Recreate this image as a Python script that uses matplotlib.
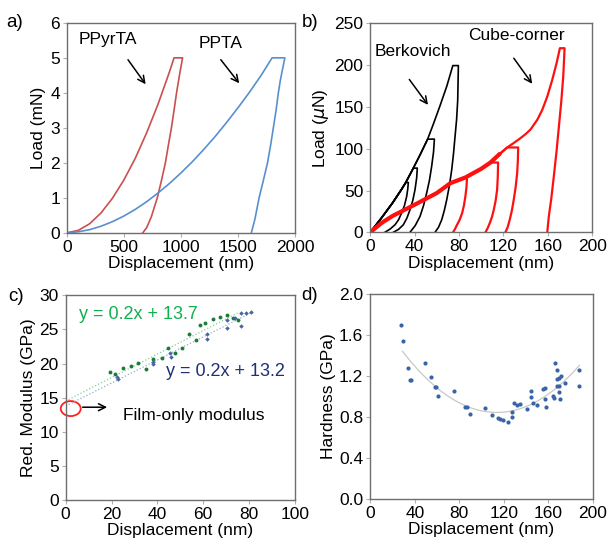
import numpy as np
import matplotlib
matplotlib.use('Agg')
import matplotlib.pyplot as plt
from matplotlib.patches import Ellipse

plt.rcParams['font.family'] = ['Liberation Sans', 'DejaVu Sans']
plt.rcParams['font.size'] = 12.5

# a) load-displacement, mN vs nm
ppyrta_x = [0, 100, 200, 300, 400, 500, 600, 700, 800, 900, 940, 1015,
            990, 962, 940, 917, 890, 864, 830, 793, 740, 700, 666]
ppyrta_y = [0, 0.07, 0.26, 0.57, 0.99, 1.51, 2.13, 2.86, 3.68, 4.6, 5.0, 5.0,
            4.55, 4.0, 3.5, 3.0, 2.5, 2.0, 1.5, 1.0, 0.45, 0.15, 0]
ppta_x = [0, 100, 200, 300, 400, 500, 600, 700, 800, 900, 1000, 1100, 1200, 1300,
          1400, 1500, 1600, 1700, 1800, 1912,
          1890, 1872, 1855, 1835, 1811, 1787, 1760, 1720, 1686, 1650, 1618]
ppta_y = [0, 0.03, 0.09, 0.19, 0.32, 0.48, 0.67, 0.89, 1.14, 1.41, 1.71, 2.03, 2.38, 2.75,
          3.15, 3.57, 4.01, 4.48, 5.0, 5.0,
          4.65, 4.35, 4.0, 3.5, 3.0, 2.5, 2.0, 1.45, 1.0, 0.4, 0]

# b) Berkovich (black) and cube-corner (red) indents, uN vs nm
berk_load_x = [0, 10, 20, 28, 32, 38.8, 45, 51.7, 57, 63, 69, 74.4]
berk_load_y = [0, 17, 35, 51, 59.6, 76.8, 93, 111.5, 130, 152, 175, 199.5]
berk_peaks = [59.6, 76.8, 111.5, 199.5]
berk_unload = [
    ([34.3, 33.8, 32.8, 30.8, 28.2, 25.5, 22.3, 18.0, 13.2], [59.6, 52, 42.8, 32, 23, 15, 9, 4, 0]),
    ([42.4, 41.8, 40.3, 38.3, 35.8, 33.0, 29.8, 25.5, 20.8], [76.8, 65, 50.8, 38, 26.9, 17, 9, 3.5, 0]),
    ([57.8, 57.0, 55.3, 53.3, 50.8, 48.0, 44.8, 40.5, 35.8], [111.5, 96, 78.7, 62, 46.9, 32, 18.9, 8, 0]),
    ([79.4, 78.8, 77.8, 76.4, 75.0, 73.4, 71.3, 68.9, 66.7, 64.4, 61.5, 58.4],
     [199.5, 158, 135, 114.6, 94, 74.8, 56, 38.9, 26, 15, 6, 0]),
]
cube_load_x = [0, 10, 20, 40, 60, 72.2, 85.7, 100, 108.3, 116, 123.4, 130, 135.4,
               140, 144.4, 150.5, 155, 159.5, 164, 167.9, 170.9]
cube_load_y = [0, 11, 19.5, 33, 47, 58.8, 65.6, 76, 83.5, 93, 101.5, 107.5, 112.7,
               117.5, 123, 134.6, 146.5, 162.4, 182.4, 202.4, 220.3]
cube_peaks = [65.6, 83.5, 101.5, 220.3]
cube_unload = [
    ([87.2, 86.7, 85.7, 84.4, 82.8, 80.6, 78.2, 76.4, 74.6], [65.6, 54, 42.8, 32, 23, 15, 9, 4, 0]),
    ([115.2, 114.9, 114.3, 113.0, 111.3, 109.6, 107.7, 105.8, 103.8], [83.5, 66, 50.8, 38, 26.9, 18, 11, 5, 0]),
    ([133.3, 133.0, 132.4, 131.0, 129.3, 127.6, 125.7, 123.8, 121.8], [101.5, 86, 70.8, 54, 38.9, 26, 15, 6, 0]),
    ([175.1, 174.6, 173.9, 172.1, 170.0, 167.8, 165.4, 163.1, 160.9, 159.5],
     [220.3, 205, 186.4, 156, 126.6, 96, 66.7, 40, 18.9, 0]),
]

# c) reduced modulus vs displacement
green_x = [19.3, 21.5, 25.1, 28.3, 31.7, 35.0, 37.9, 41.9, 44.8, 47.7, 50.6, 53.9, 56.8,
           58.6, 60.8, 64.4, 67.3, 70.2, 73.1, 75.0]
green_y = [18.7, 18.4, 19.4, 19.6, 20.1, 19.2, 20.6, 20.8, 22.3, 21.6, 22.3, 24.3, 23.4,
           25.6, 26.0, 26.6, 26.9, 27.1, 26.7, 26.4]
blue_x = [22.5, 23.0, 38.2, 38.2, 45.5, 45.8, 61.8, 61.8, 70.2, 70.2, 73.8, 76.7, 76.7, 78.5, 80.7]
blue_y = [18.0, 17.7, 20.3, 19.9, 21.6, 21.0, 24.4, 23.6, 26.4, 25.2, 26.7, 27.4, 25.5, 27.4, 27.5]

# d) hardness vs displacement
hard_x = [27.5, 29.0, 33.8, 36.0, 37.0, 49.4, 54.5, 57.8, 59.0, 60.8, 75.7, 84.7, 86.8, 89.8,
          102.7, 109.3, 114.7, 116.8, 118.9, 123.7, 127.2, 127.2, 129.6, 131.7, 134.7, 140.7,
          144.6, 144.6, 146.7, 149.7, 155.1, 156.6, 157.8, 157.2, 164.1, 165.3, 165.6, 167.7,
          167.7, 169.8, 171.6, 167.7, 169.2, 169.8, 170.7, 174.6, 188.0, 188.0]
hard_y = [1.697, 1.547, 1.282, 1.161, 1.161, 1.325, 1.194, 1.096, 1.096, 1.005, 1.051, 0.900,
          0.900, 0.832, 0.884, 0.816, 0.786, 0.776, 0.770, 0.750, 0.800, 0.850, 0.933, 0.913,
          0.927, 0.874, 1.050, 0.995, 0.940, 0.917, 1.070, 1.080, 0.897, 0.972, 1.005, 0.985,
          1.331, 1.259, 1.175, 1.185, 1.200, 1.100, 1.100, 1.044, 0.979, 1.129, 1.256, 1.103]

fig = plt.figure(figsize=(6.08, 5.44), dpi=100)
ax_a = fig.add_axes([0.110, 0.572, 0.375, 0.386])
ax_b = fig.add_axes([0.609, 0.573, 0.365, 0.384])
ax_c = fig.add_axes([0.108, 0.081, 0.377, 0.376])
ax_d = fig.add_axes([0.609, 0.083, 0.366, 0.376])

for ax in (ax_a, ax_b, ax_c, ax_d):
    for s in ax.spines.values():
        s.set_color('#6e6e6e')
        s.set_linewidth(1.0)
    ax.tick_params(direction='out', length=3, width=0.8, color='#b0b0b0', labelsize=12.5, pad=2)
    ax.set_xlabel('Displacement (nm)', fontsize=12.5, labelpad=1)

# a
ax_a.plot(ppyrta_x, ppyrta_y, color='#c9504f', lw=1.2)
ax_a.plot(ppta_x, ppta_y, color='#5a8fcf', lw=1.2)
ax_a.set_xlim(0, 2000)
ax_a.set_ylim(0, 6)
ax_a.set_xticks([0, 500, 1000, 1500, 2000])
ax_a.set_yticks(range(0, 7))
ax_a.set_ylabel('Load (mN)', labelpad=3)
ax_a.text(102, 5.53, 'PPyrTA', va='center')
ax_a.text(1160, 5.42, 'PPTA', va='center')
ax_a.annotate('', xy=(705, 4.18), xytext=(522, 5.01),
              arrowprops=dict(arrowstyle='->', color='black', lw=1.1))
ax_a.annotate('', xy=(1527, 4.21), xytext=(1335, 5.01),
              arrowprops=dict(arrowstyle='->', color='black', lw=1.1))

# b
for pk, (ux, uy) in zip(berk_peaks, berk_unload):
    lx = [x for x, y in zip(berk_load_x, berk_load_y) if y <= pk]
    ly = [y for y in berk_load_y if y <= pk]
    ax_b.plot(lx + ux, ly + uy, color='black', lw=1.2)
for pk, (ux, uy) in zip(cube_peaks, cube_unload):
    lx = [x for x, y in zip(cube_load_x, cube_load_y) if y <= pk]
    ly = [y for y in cube_load_y if y <= pk]
    ax_b.plot(lx + ux, ly + uy, color='#ff1010', lw=1.6)
ax_b.plot(cube_load_x[:10], cube_load_y[:10], color='#ff1010', lw=3.0)
ax_b.set_xlim(0, 200)
ax_b.set_ylim(0, 250)
ax_b.set_xticks(range(0, 201, 40))
ax_b.set_yticks(range(0, 251, 50))
ax_b.set_ylabel('Load ($\\mu$N)', labelpad=2)
ax_b.text(3.6, 216, 'Berkovich', va='center')
ax_b.text(88.4, 235, 'Cube-corner', va='center')
ax_b.annotate('', xy=(53.5, 149.8), xytext=(33.7, 185.6),
              arrowprops=dict(arrowstyle='->', color='black', lw=1.1))
ax_b.annotate('', xy=(147.4, 175), xytext=(127.9, 211),
              arrowprops=dict(arrowstyle='->', color='black', lw=1.1))

# c
gfit = np.polyfit(green_x, green_y, 1)
bfit = np.polyfit(blue_x, blue_y, 1)
gx = np.array([0, max(green_x)])
bx = np.array([0, max(blue_x)])
ax_c.plot(gx, np.polyval(gfit, gx), color='#7fd08f', lw=0.9, ls=':')
ax_c.plot(bx, np.polyval(bfit, bx), color='#9aa6c8', lw=0.9, ls=':')
ax_c.plot(green_x, green_y, 'o', color='#1e7a3c', ms=2.8, mew=0)
ax_c.plot(blue_x, blue_y, 'D', color='#4664a6', ms=2.3, mew=0)
ax_c.set_xlim(0, 100)
ax_c.set_ylim(0, 30)
ax_c.set_xticks(range(0, 101, 20))
ax_c.set_yticks(range(0, 31, 5))
ax_c.set_ylabel('Red. Modulus (GPa)', labelpad=2)
ax_c.text(5.8, 27.2, 'y = 0.2x + 13.7', color='#10b050', va='center', fontsize=13)
ax_c.text(43.7, 18.9, 'y = 0.2x + 13.2', color='#1f2f78', va='center', fontsize=13)
ax_c.add_patch(Ellipse((2.2, 13.4), 8.7, 2.2, fill=False, edgecolor='#ff2020', lw=1.3, clip_on=False))
ax_c.annotate('', xy=(19.3, 13.6), xytext=(6.2, 13.6),
              arrowprops=dict(arrowstyle='->', color='black', lw=1.1))
ax_c.text(25.1, 12.4, 'Film-only modulus', va='center')

# d
hfit = np.polyfit(hard_x, hard_y, 2)
hx = np.linspace(min(hard_x) + 1.5, max(hard_x), 60)
ax_d.plot(hx, np.polyval(hfit, hx), color='#c8c8c8', lw=0.9)
ax_d.plot(hard_x, hard_y, 'o', color='#3a64a8', ms=3.0, mew=0)
ax_d.set_xlim(0, 200)
ax_d.set_ylim(0, 2.0)
ax_d.set_xticks(range(0, 201, 40))
ax_d.set_yticks([0, 0.4, 0.8, 1.2, 1.6, 2.0])
ax_d.set_yticklabels(['0.0', '0.4', '0.8', '1.2', '1.6', '2.0'])
ax_d.set_ylabel('Hardness (GPa)', labelpad=2)

fig.text(0.010, 0.958, 'a)', fontsize=13.5, va='center')
fig.text(0.496, 0.958, 'b)', fontsize=13.5, va='center')
fig.text(0.013, 0.455, 'c)', fontsize=13.5, va='center')
fig.text(0.495, 0.457, 'd)', fontsize=13.5, va='center')

fig.savefig('out.png', dpi=100)
